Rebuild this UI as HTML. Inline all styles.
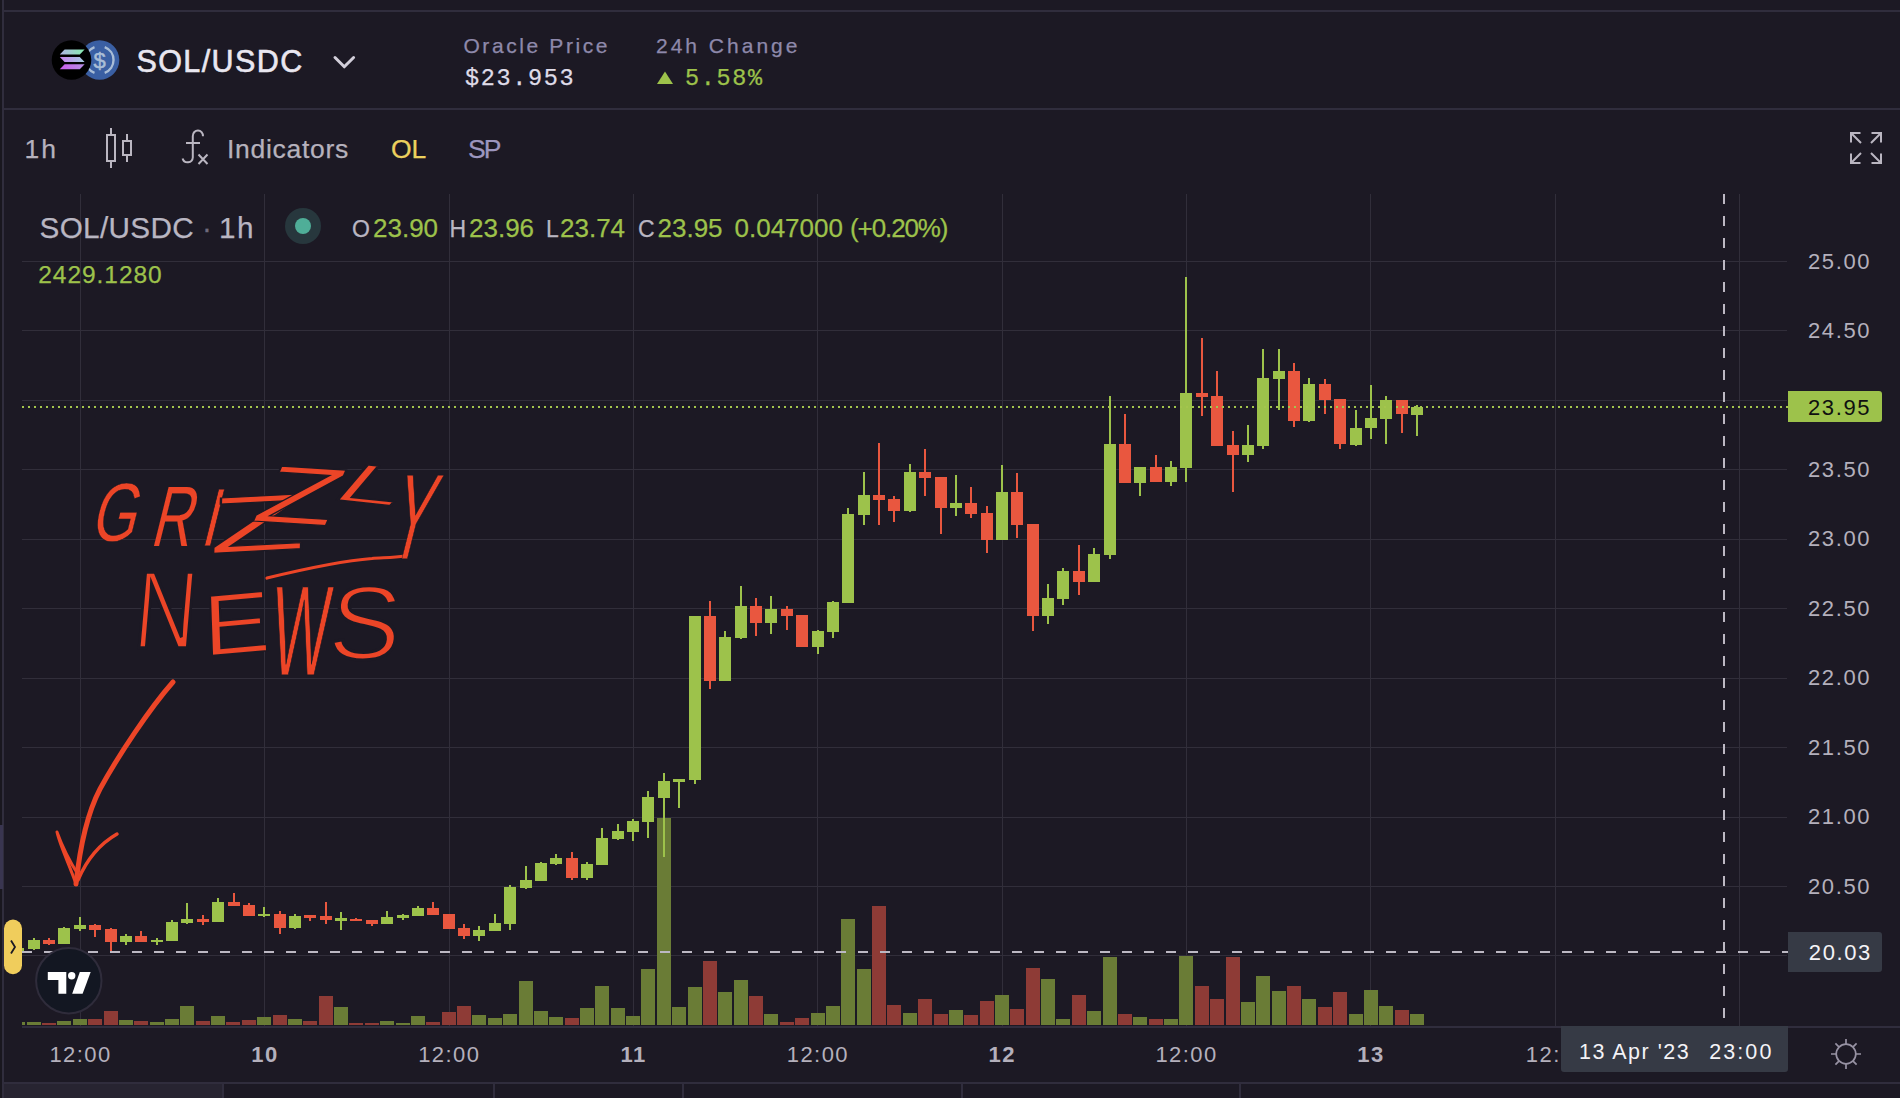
<!DOCTYPE html><html><head><meta charset="utf-8"><title>SOL/USDC</title><style>

html,body{margin:0;padding:0}
body{width:1900px;height:1098px;background:#1c1924;overflow:hidden;position:relative;font-family:"Liberation Sans",sans-serif;color:#b6b2bd}
.abs{position:absolute;white-space:nowrap}
.hl{position:absolute;height:1px;background:#302d3d}
.vl{position:absolute;width:1px;background:#302d3d}
.t{position:absolute;white-space:nowrap;line-height:1;-webkit-text-stroke:.25px currentColor}
.mono{font-family:"Liberation Mono",monospace}
.ax{position:absolute;white-space:nowrap;line-height:1;font-size:22px;letter-spacing:1.6px;color:#b4b0bc;left:1808px}
.tx{position:absolute;white-space:nowrap;line-height:1;font-size:22px;letter-spacing:1.45px;color:#b4b0bc;top:1043.7px;transform:translateX(-50%)}
.g{color:#9dc24b}
svg{position:absolute;left:0;top:0}

</style></head><body>
<div class="abs" style="left:0;top:0;width:2px;height:1098px;background:#19171f"></div>
<div class="hl" style="left:2px;top:10px;width:1898px;height:2px"></div>
<div class="hl" style="left:2px;top:108px;width:1898px;height:2px"></div>
<div class="vl" style="left:2px;top:0;width:2px;height:1098px"></div>
<div class="hl" style="left:2px;top:1082px;width:1898px;height:2px"></div>
<div class="abs" style="left:4px;top:1084px;width:219px;height:14px;background:#272431"></div>
<div class="vl" style="left:222px;top:1084px;height:14px;width:2px"></div>
<div class="vl" style="left:493px;top:1084px;height:14px;width:2px"></div>
<div class="vl" style="left:682px;top:1084px;height:14px;width:2px"></div>
<div class="vl" style="left:961px;top:1084px;height:14px;width:2px"></div>
<div class="vl" style="left:1239px;top:1084px;height:14px;width:2px"></div>
<div class="abs" style="left:0;top:825px;width:3px;height:64px;background:#393550"></div>
<svg width="1900" height="1098" viewBox="0 0 1900 1098">
<defs><clipPath id="plot"><rect x="22" y="194" width="1765" height="832"/></clipPath><linearGradient id="s1" x1="0" x2="1" y1="0" y2="0"><stop offset="0" stop-color="#b0b4e6"/><stop offset="1" stop-color="#86ecae"/></linearGradient><linearGradient id="s2" x1="0" x2="1" y1="0" y2="0"><stop offset="0" stop-color="#c783ee"/><stop offset="1" stop-color="#a5cbe0"/></linearGradient><linearGradient id="s3" x1="0" x2="1" y1="0" y2="0"><stop offset="0" stop-color="#cc5cec"/><stop offset="1" stop-color="#b58fe4"/></linearGradient></defs>
<path d="M80.5 194V1026M264.5 194V1026M449.5 194V1026M633.5 194V1026M817.5 194V1026M1002.5 194V1026M1186.5 194V1026M1370.5 194V1026M1555.5 194V1026M1739.5 194V1026M22 261.5H1787M22 330.5H1787M22 400.5H1787M22 469.5H1787M22 539.5H1787M22 608.5H1787M22 678.5H1787M22 747.5H1787M22 817.5H1787M22 886.5H1787M22 955.5H1787" stroke="#312e3a" stroke-width="1" fill="none" shape-rendering="crispEdges"/>
<path d="M22 1027H1900" stroke="#302d3d" stroke-width="2" shape-rendering="crispEdges"/>
<g clip-path="url(#plot)" shape-rendering="crispEdges">
<path d="M11 1021.6h14V1025h-14zM27 1021.6h14V1025h-14zM57 1020.6h14V1025h-14zM73 1018.6h14V1025h-14zM119 1019.6h14V1025h-14zM150 1021.6h14V1025h-14zM165 1018.6h14V1025h-14zM180 1005.5h14V1025h-14zM211 1015.6h14V1025h-14zM257 1016.6h14V1025h-14zM288 1018.6h14V1025h-14zM334 1006.7h14V1025h-14zM380 1021.0h14V1025h-14zM396 1023.0h14V1025h-14zM411 1015.9h14V1025h-14zM472 1014.9h14V1025h-14zM488 1017.9h14V1025h-14zM503 1013.9h14V1025h-14zM519 980.9h14V1025h-14zM534 1010.9h14V1025h-14zM549 1016.9h14V1025h-14zM580 1007.8h14V1025h-14zM595 985.8h14V1025h-14zM611 1008.0h14V1025h-14zM626 1016.1h14V1025h-14zM641 969.1h14V1025h-14zM657 818.0h14V1025h-14zM672 1007.3h14V1025h-14zM688 987.1h14V1025h-14zM718 992.2h14V1025h-14zM734 980.2h14V1025h-14zM764 1014.2h14V1025h-14zM811 1013.2h14V1025h-14zM826 1006.1h14V1025h-14zM841 919.2h14V1025h-14zM857 969.1h14V1025h-14zM903 1013.2h14V1025h-14zM949 1010.2h14V1025h-14zM995 995.2h14V1025h-14zM1041 979.2h14V1025h-14zM1056 1019.3h14V1025h-14zM1087 1011.2h14V1025h-14zM1103 957.3h14V1025h-14zM1133 1017.3h14V1025h-14zM1164 1019.3h14V1025h-14zM1179 956.3h14V1025h-14zM1241 1002.3h14V1025h-14zM1256 976.2h14V1025h-14zM1272 991.3h14V1025h-14zM1302 999.2h14V1025h-14zM1349 1014.2h14V1025h-14zM1364 990.1h14V1025h-14zM1379 1006.1h14V1025h-14zM1410 1014.2h14V1025h-14z" fill="#6a7c36"/>
<path d="M42 1022.8h14V1025h-14zM88 1018.6h14V1025h-14zM104 1010.5h14V1025h-14zM134 1020.6h14V1025h-14zM196 1020.6h14V1025h-14zM226 1021.6h14V1025h-14zM242 1019.6h14V1025h-14zM273 1014.6h14V1025h-14zM303 1020.6h14V1025h-14zM319 995.7h14V1025h-14zM349 1023.0h14V1025h-14zM365 1023.0h14V1025h-14zM426 1022.0h14V1025h-14zM442 1011.9h14V1025h-14zM457 1005.8h14V1025h-14zM565 1017.9h14V1025h-14zM703 961.0h14V1025h-14zM749 996.2h14V1025h-14zM780 1022.1h14V1025h-14zM795 1018.3h14V1025h-14zM872 905.9h14V1025h-14zM887 1005.1h14V1025h-14zM918 999.2h14V1025h-14zM934 1014.2h14V1025h-14zM964 1015.2h14V1025h-14zM980 1001.1h14V1025h-14zM1010 1009.2h14V1025h-14zM1026 968.2h14V1025h-14zM1072 995.2h14V1025h-14zM1118 1014.2h14V1025h-14zM1149 1019.3h14V1025h-14zM1195 986.3h14V1025h-14zM1210 999.2h14V1025h-14zM1226 957.3h14V1025h-14zM1287 986.3h14V1025h-14zM1318 1007.3h14V1025h-14zM1333 992.2h14V1025h-14zM1395 1010.2h14V1025h-14z" fill="#8e3b36"/>
<path d="M12 948.3h12V952.5h-12zM17 948.3h2V952.5h-2zM28 940.4h12V948.8h-12zM33 938.2h2V949.5h-2zM58 928.4h12V943.8h-12zM63 927.3h2V943.8h-2zM74 925.1h12V928.6h-12zM79 916.8h2V930.6h-2zM120 936.2h12V941.9h-12zM125 934.0h2V945.0h-2zM151 939.9h12V942.0h-12zM156 938.2h2V945.0h-2zM166 922.2h12V940.7h-12zM171 920.2h2V940.7h-2zM181 919.2h12V922.7h-12zM186 902.8h2V923.9h-2zM212 902.0h12V921.7h-12zM217 898.0h2V921.7h-2zM258 914.1h12V916.1h-12zM263 906.7h2V917.1h-2zM289 915.8h12V927.8h-12zM294 914.1h2V929.0h-2zM335 918.1h12V920.6h-12zM340 912.2h2V929.9h-2zM381 917.3h12V924.0h-12zM386 911.0h2V924.0h-2zM397 914.7h12V917.8h-12zM402 914.2h2V919.8h-2zM412 908.0h12V915.9h-12zM417 906.0h2V915.9h-2zM473 930.2h12V935.8h-12zM478 926.2h2V940.8h-2zM489 923.2h12V930.7h-12zM494 914.2h2V930.7h-2zM504 886.9h12V924.0h-12zM509 885.3h2V929.9h-2zM520 880.2h12V887.8h-12zM525 866.2h2V889.0h-2zM535 862.9h12V881.0h-12zM540 862.0h2V881.0h-2zM550 858.0h12V863.9h-12zM555 854.1h2V865.0h-2zM581 863.9h12V877.7h-12zM586 862.2h2V879.9h-2zM596 838.1h12V864.7h-12zM601 828.3h2V864.7h-2zM612 831.4h12V838.6h-12zM617 824.1h2V839.8h-2zM627 820.8h12V831.7h-12zM632 819.0h2V841.0h-2zM642 797.2h12V821.7h-12zM647 791.1h2V837.5h-2zM658 781.4h12V798.0h-12zM663 773.0h2V856.7h-2zM673 779.4h12V782.0h-12zM678 779.4h2V807.7h-2zM689 616.2h12V779.7h-12zM694 616.2h2V784.0h-2zM719 637.1h12V680.7h-12zM724 631.0h2V680.7h-2zM735 606.0h12V637.9h-12zM740 585.9h2V639.2h-2zM765 609.3h12V622.8h-12zM770 596.1h2V633.5h-2zM812 631.0h12V646.8h-12zM817 630.2h2V653.9h-2zM827 602.2h12V631.8h-12zM832 600.9h2V637.9h-2zM842 513.8h12V602.6h-12zM847 508.0h2V602.6h-2zM858 494.7h12V514.8h-12zM863 471.8h2V524.5h-2zM904 471.8h12V510.5h-12zM909 463.9h2V511.8h-2zM950 502.9h12V508.0h-12zM955 474.8h2V515.6h-2zM996 491.9h12V539.8h-12zM1001 465.1h2V539.8h-2zM1042 598.0h12V615.8h-12zM1047 583.9h2V623.5h-2zM1057 570.9h12V598.7h-12zM1062 567.9h2V604.9h-2zM1088 553.9h12V581.9h-12zM1093 548.3h2V581.9h-2zM1104 443.6h12V554.6h-12zM1109 396.4h2V559.0h-2zM1134 467.0h12V483.1h-12zM1139 467.0h2V495.9h-2zM1165 467.0h12V481.8h-12zM1170 461.4h2V485.6h-2zM1180 393.1h12V467.8h-12zM1185 277.1h2V481.8h-2zM1242 445.4h12V454.5h-12zM1247 424.5h2V461.9h-2zM1257 378.1h12V445.6h-12zM1262 349.2h2V448.7h-2zM1273 371.4h12V378.6h-12zM1278 349.2h2V409.7h-2zM1303 384.4h12V420.6h-12zM1308 378.1h2V421.9h-2zM1350 428.3h12V444.9h-12zM1355 410.4h2V445.6h-2zM1365 418.1h12V428.3h-12zM1370 384.9h2V439.0h-2zM1380 400.2h12V418.6h-12zM1385 396.4h2V443.6h-2zM1411 406.9h12V414.8h-12zM1416 405.0h2V436.0h-2z" fill="#9dc24b"/>
<path d="M43 940.4h12V943.8h-12zM48 938.2h2V945.0h-2zM89 925.1h12V929.8h-12zM94 923.9h2V936.9h-2zM105 929.0h12V941.9h-12zM110 928.0h2V952.5h-2zM135 936.2h12V941.9h-12zM140 931.0h2V941.9h-2zM197 918.8h12V921.9h-12zM202 915.1h2V925.0h-2zM228 902.0h12V905.9h-12zM233 892.7h2V905.9h-2zM243 904.9h12V915.8h-12zM248 903.2h2V915.8h-2zM274 914.1h12V927.6h-12zM279 910.9h2V934.0h-2zM304 915.1h12V917.7h-12zM309 915.1h2V920.5h-2zM320 916.1h12V919.8h-12zM325 902.1h2V924.0h-2zM350 918.6h12V921.0h-12zM355 918.2h2V921.0h-2zM366 919.8h12V924.0h-12zM371 919.8h2V926.0h-2zM427 908.0h12V914.7h-12zM432 902.1h2V914.7h-2zM443 914.2h12V928.7h-12zM448 914.2h2V928.7h-2zM458 928.2h12V936.1h-12zM463 924.0h2V939.2h-2zM566 858.0h12V877.7h-12zM571 852.1h2V879.9h-2zM704 616.2h12V680.7h-12zM709 601.2h2V688.9h-2zM750 606.0h12V622.8h-12zM755 597.8h2V635.6h-2zM781 609.3h12V615.7h-12zM786 606.0h2V629.7h-2zM796 615.2h12V647.1h-12zM801 615.2h2V647.1h-2zM873 494.7h12V499.8h-12zM878 443.0h2V524.5h-2zM888 499.0h12V510.5h-12zM893 496.0h2V522.0h-2zM919 471.8h12V477.9h-12zM924 448.8h2V495.7h-2zM935 476.9h12V508.0h-12zM940 476.9h2V534.0h-2zM965 502.9h12V513.8h-12zM970 486.8h2V517.7h-2zM981 513.1h12V539.8h-12zM986 506.2h2V552.6h-2zM1011 491.9h12V524.5h-12zM1016 473.0h2V537.8h-2zM1027 523.8h12V615.8h-12zM1032 523.8h2V630.9h-2zM1073 570.9h12V581.9h-12zM1078 544.9h2V594.7h-2zM1119 443.6h12V483.1h-12zM1124 414.3h2V483.1h-2zM1150 467.0h12V481.8h-12zM1155 455.0h2V481.8h-2zM1196 393.1h12V396.9h-12zM1201 338.3h2V415.5h-2zM1211 396.4h12V445.6h-12zM1216 371.4h2V445.6h-2zM1227 445.4h12V454.5h-12zM1232 431.3h2V492.0h-2zM1288 371.4h12V420.6h-12zM1293 363.3h2V427.0h-2zM1319 384.4h12V399.7h-12zM1324 379.3h2V413.7h-2zM1334 399.2h12V444.3h-12zM1339 399.2h2V448.7h-2zM1396 400.2h12V414.3h-12zM1401 400.2h2V432.9h-2z" fill="#e9573f"/>
</g>
<path d="M22 407H1788" stroke="#a4c54d" stroke-width="2" stroke-dasharray="2 4" shape-rendering="crispEdges"/>
<path d="M22 952H1788" stroke="#bcb8c3" stroke-width="2" stroke-dasharray="10 12" stroke-dashoffset="0" shape-rendering="crispEdges"/>
<path d="M1724 194V1026" stroke="#bcb8c3" stroke-width="2" stroke-dasharray="10 12" stroke-dashoffset="-0" shape-rendering="crispEdges"/>
<path d="M1788 391h91a3 3 0 0 1 3 3v25a3 3 0 0 1-3 3h-91z" fill="#9dc24b"/>
<path d="M1788 932h91a3 3 0 0 1 3 3v34a3 3 0 0 1-3 3h-91z" fill="#363a45"/>
<path d="M1561 1026h227v43a3 3 0 0 1-3 3h-221a3 3 0 0 1-3-3z" fill="#363a45"/>
<g fill="none" stroke="#ec4527" stroke-linecap="round" stroke-linejoin="round">
<path d="M173 682C150 708 118 756 100 789C88 812 80 846 76 884" stroke-width="5"/>
<path d="M76 884C70 866 60 846 57 832C62 846 70 862 79 876" stroke-width="3"/>
<path d="M78 880C84 866 96 846 117 834" stroke-width="3.5"/>
<path d="M405 556C392 558 380 557.5 372 558.5C340 561 300 570 267 578" stroke-width="3.2"/>
</g>
<text transform="skewX(-14)" font-family="Liberation Sans, sans-serif" fill="#ec4527" stroke="#1c1924"><tspan x="224.2" y="541.2" font-size="83.2" rotate="0" textLength="45.0" lengthAdjust="spacingAndGlyphs" stroke-width="0.41">G</tspan><tspan x="285.5" y="546.0" font-size="85.8" rotate="0" textLength="40.6" lengthAdjust="spacingAndGlyphs" stroke-width="0.19">R</tspan><tspan x="334.8" y="546.0" font-size="82.9" rotate="0" textLength="17.4" lengthAdjust="spacingAndGlyphs" stroke-width="0.94">I</tspan><tspan x="345.9" y="553.5" font-size="80.3" rotate="-6" textLength="97.2" lengthAdjust="spacingAndGlyphs" stroke-width="1.22">Z</tspan><tspan x="378.8" y="520.8" font-size="80.8" rotate="6" textLength="82.7" lengthAdjust="spacingAndGlyphs" stroke-width="1.26">Z</tspan><tspan x="451.9" y="499.0" font-size="52.8" rotate="14" textLength="71.2" lengthAdjust="spacingAndGlyphs" stroke-width="1.52">L</tspan><tspan x="524.0" y="559.0" font-size="122.2" rotate="0" textLength="39.7" lengthAdjust="spacingAndGlyphs" stroke-width="0.89">Y</tspan></text>
<text transform="skewX(-5)" font-family="Liberation Sans, sans-serif" fill="#ec4527" stroke="#1c1924"><tspan x="188.6" y="648.0" font-size="110.5" rotate="0" textLength="62.2" lengthAdjust="spacingAndGlyphs" stroke-width="3.57">N</tspan><tspan x="261.1" y="656.4" font-size="87.4" rotate="-6" textLength="67.5" lengthAdjust="spacingAndGlyphs" stroke-width="1.78">E</tspan><tspan x="327.7" y="675.0" font-size="128.6" rotate="0" textLength="57.8" lengthAdjust="spacingAndGlyphs" stroke-width="1.24">W</tspan><tspan x="383.9" y="658.9" font-size="105.1" rotate="0" textLength="72.3" lengthAdjust="spacingAndGlyphs" stroke-width="3.15">S</tspan></text>
</svg>
<svg width="1900" height="300" viewBox="0 0 1900 300">
<circle cx="99.6" cy="60" r="19.7" fill="#3a5fa3"/>
<g fill="none" stroke="#a9bdd6" stroke-width="2.4" stroke-linecap="butt"><path d="M94.5 47.2A13.7 13.7 0 0 0 94.5 72.8"/><path d="M104.7 47.2A13.7 13.7 0 0 1 104.7 72.8"/></g>
<text x="99.6" y="67.6" text-anchor="middle" font-family="Liberation Sans, sans-serif" font-size="22" fill="#a9bdd6" stroke="#a9bdd6" stroke-width=".5">$</text>
<circle cx="71.5" cy="60" r="19.8" fill="#000"/>
<path d="M64.6 49.5H84.6L79.8 54.6H59.8z" fill="url(#s1)"/>
<path d="M59.8 56.9H79.8L84.6 62H64.6z" fill="url(#s2)"/>
<path d="M64.6 64.2H84.6L79.8 69.3H59.8z" fill="url(#s3)"/>
<path d="M335 57.5L344.3 66.8L353.6 57.5" fill="none" stroke="#d2cfda" stroke-width="3" stroke-linecap="round" stroke-linejoin="round"/>
<path d="M657 84L665 71.4L673 84z" fill="#9dc24b"/>
<g fill="none" stroke="#bab6c1" stroke-width="2">
<rect x="107" y="135" width="8" height="26"/><path d="M111 128V135M111 161V168"/>
<rect x="123" y="141" width="8" height="14"/><path d="M127 134V141M127 155V162"/>
<path d="M203 136.2A5.1 5.7 0 0 0 192.8 136V157.5A5.2 5.2 0 0 1 182.6 158.5M186 143H200M198.5 154.5L207.5 164M207.5 154.5L198.5 164"/>
<path d="M1851 142.5V133H1860.5M1851.5 133.5L1861 143M1881 142.5V133H1871.5M1880.5 133.5L1871 143M1851 153.5V163H1860.5M1851.5 162.5L1861 153M1881 153.5V163H1871.5M1880.5 162.5L1871 153"/>
</g>
<circle cx="303" cy="226" r="18" fill="#27373d"/><circle cx="303" cy="226" r="8" fill="#4fae98"/>
</svg>
<div class="t" style="left:136.5px;top:46px;font-size:30.5px;letter-spacing:1.4px;color:#e9e7f0;-webkit-text-stroke:.6px #e9e7f0">SOL/USDC</div>
<div class="t" style="left:463.4px;top:34.5px;font-size:21px;letter-spacing:2.6px;color:#8e89ab">Oracle Price</div>
<div class="t mono" style="left:465px;top:66.5px;font-size:23.5px;letter-spacing:1.65px;color:#dfdce8">$23.953</div>
<div class="t" style="left:656px;top:34.5px;font-size:21px;letter-spacing:3px;color:#8e89ab">24h Change</div>
<div class="t mono g" style="left:685px;top:66.5px;font-size:23.5px;letter-spacing:1.65px">5.58%</div>
<div class="t" style="left:24.5px;top:136px;font-size:26.5px;letter-spacing:2px;color:#b6b2bd">1h</div>
<div class="t" style="left:227px;top:136px;font-size:26.5px;letter-spacing:.7px;color:#b6b2bd">Indicators</div>
<div class="t" style="left:391px;top:136px;font-size:26.5px;color:#ecd15e">OL</div>
<div class="t" style="left:468px;top:136px;font-size:26.5px;letter-spacing:-2px;color:#9c96bf">SP</div>
<div class="t" style="left:39.5px;top:213px;font-size:29.7px;letter-spacing:.35px;color:#b9b6c2">SOL/USDC</div>
<div class="t" style="left:202px;top:213px;font-size:29.7px;color:#6e6a7c">·</div>
<div class="t" style="left:219px;top:213px;font-size:29.7px;letter-spacing:1.5px;color:#b9b6c2">1h</div>
<div class="t" style="left:352px;top:215px;font-size:26px;color:#b9b6c2"><span style="font-size:23px">O</span></div>
<div class="t" style="left:373px;top:215px;font-size:26px;color:#9dc24b">23.90</div>
<div class="t" style="left:449.5px;top:215px;font-size:26px;color:#b9b6c2"><span style="font-size:23px">H</span></div>
<div class="t" style="left:469px;top:215px;font-size:26px;color:#9dc24b">23.96</div>
<div class="t" style="left:546px;top:215px;font-size:26px;color:#b9b6c2"><span style="font-size:23px">L</span></div>
<div class="t" style="left:560px;top:215px;font-size:26px;color:#9dc24b">23.74</div>
<div class="t" style="left:638px;top:215px;font-size:26px;color:#b9b6c2"><span style="font-size:23px">C</span></div>
<div class="t" style="left:657.5px;top:215px;font-size:26px;color:#9dc24b">23.95</div>
<div class="t" style="left:734.5px;top:215px;font-size:26px;color:#9dc24b">0.047000</div>
<div class="t" style="left:850px;top:215px;font-size:26px;color:#9dc24b"><span style="letter-spacing:-1.1px">(+0.20%)</span></div>
<div class="t g" style="left:38.3px;top:262.5px;font-size:24.5px;letter-spacing:.95px">2429.1280</div>
<div class="ax" style="top:250.5px">25.00</div>
<div class="ax" style="top:319.9px">24.50</div>
<div class="ax" style="top:458.8px">23.50</div>
<div class="ax" style="top:528.3px">23.00</div>
<div class="ax" style="top:597.7px">22.50</div>
<div class="ax" style="top:667.1px">22.00</div>
<div class="ax" style="top:736.6px">21.50</div>
<div class="ax" style="top:806.0px">21.00</div>
<div class="ax" style="top:875.5px">20.50</div>
<div class="ax" style="top:396.5px;color:#0f1010">23.95</div>
<div class="ax" style="top:941.5px;margin-left:.8px;color:#f4f3f7">20.03</div>
<div class="tx" style="left:80.6px">12:00</div>
<div class="tx" style="left:264.9px"><b>10</b></div>
<div class="tx" style="left:449.3px">12:00</div>
<div class="tx" style="left:633.6px"><b>11</b></div>
<div class="tx" style="left:817.9px">12:00</div>
<div class="tx" style="left:1002.3px"><b>12</b></div>
<div class="tx" style="left:1186.6px">12:00</div>
<div class="tx" style="left:1370.9px"><b>13</b></div>
<div class="tx" style="left:1555.3px;transform:none;margin-left:-29.5px">12:00</div>
<div class="abs" style="left:1561px;top:1027px;width:227px;height:42px;background:#363a45"></div>
<div class="tx" style="left:1579px;top:1042.3px;transform:none;color:#f4f3f7;font-size:21.5px;letter-spacing:1.5px;word-spacing:0px">13 Apr '23<span style="letter-spacing:13px"> </span><span style="letter-spacing:2.1px">23:00</span></div>
<svg width="1900" height="1098" viewBox="0 0 1900 1098">
<rect x="4" y="919.6" width="18" height="54.6" rx="9" fill="#f0cd5c"/>
<path d="M11 940.5L15 947L11 953.5" fill="none" stroke="#1c1924" stroke-width="1.8"/>
<circle cx="68.8" cy="980.7" r="32.7" fill="#131722" stroke="#2f2c3b" stroke-width="2"/>
<path d="M47.8 972H66.3V993.7H58.4V979.9H47.8z" fill="#fff"/><circle cx="71.7" cy="975.7" r="3.7" fill="#fff"/><path d="M79.8 972H90.7L82.6 993.7H72.2z" fill="#fff"/>
<g fill="none" stroke="#9792a3" stroke-width="1.7"><circle cx="1846" cy="1054" r="9.8"/><path d="M1846 1039V1044M1846 1064V1069M1831 1054H1836M1856 1054H1861M1835.4 1043.4L1838.9 1046.9M1853.1 1061.1L1856.6 1064.6M1835.4 1064.6L1838.9 1061.1M1853.1 1046.9L1856.6 1043.4"/></g>
</svg>
</body></html>
